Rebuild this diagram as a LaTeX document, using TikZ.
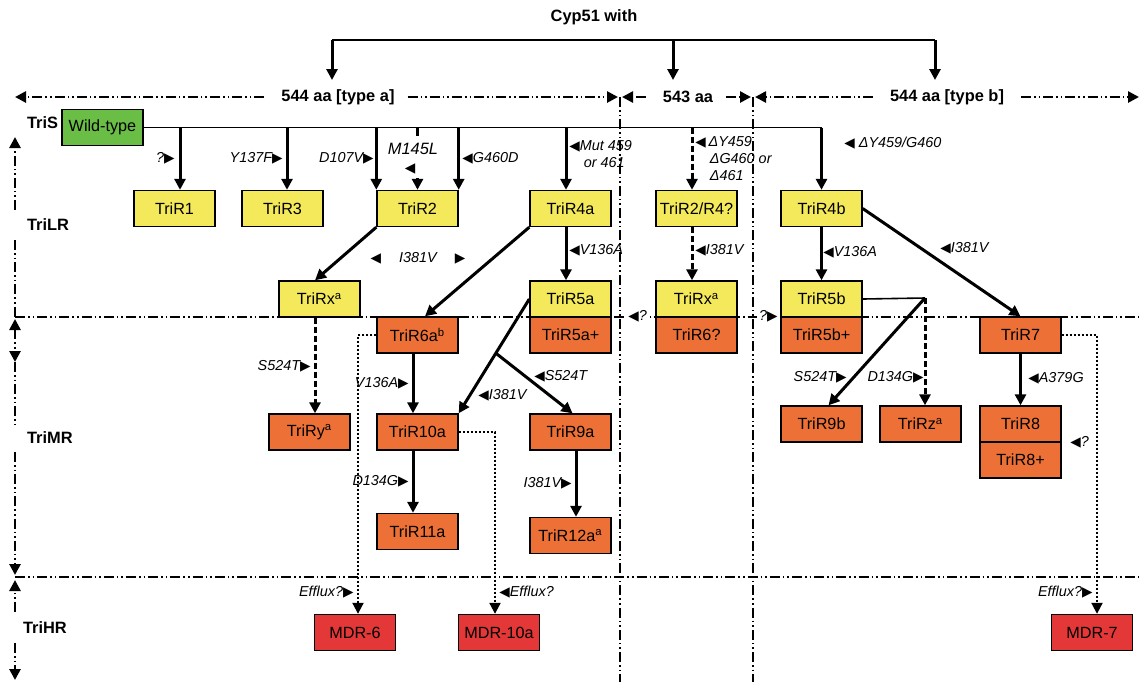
\documentclass[tikz,border=0pt]{standalone}
\usepackage{fontspec}
\setmainfont{Liberation Sans}
\newfontfamily\symf{DejaVu Sans}
\usetikzlibrary{arrows.meta,calc}
\definecolor{wtgreen}{RGB}{106,190,70}
\definecolor{lryellow}{RGB}{243,233,90}
\definecolor{mrorange}{RGB}{237,113,55}
\definecolor{hrred}{RGB}{228,55,55}
\newcommand{\rtri}{{\symf\fontsize{6.8}{7}\selectfont ▶}}
\newcommand{\ltri}{{\symf\fontsize{6.8}{7}\selectfont ◀}}
\newcommand{\ptri}{\phantom{\ltri}}

\begin{document}
\begin{tikzpicture}[x=0.5pt,y=-0.5pt,
    box/.style={draw,line width=0.7pt,minimum width=40.5pt,minimum height=18pt,inner sep=0pt,font=\fontsize{8.1}{9}\selectfont},
    ybox/.style={box,fill=lryellow},
    obox/.style={box,fill=mrorange},
    rbox/.style={box,fill=hrred},
    gbox/.style={box,fill=wtgreen},
    lab/.style={font=\fontsize{7.2}{8.6}\selectfont\itshape,inner sep=1pt},
    hdr/.style={font=\fontsize{8.2}{10}\selectfont\bfseries},
    tip/.style={-{Triangle[length=5.5pt,width=5.5pt]}},
    arr/.style={line width=1.5pt,tip},
    darr/.style={arr,dash pattern=on 3pt off 1.5pt},
    ax/.style={line width=1.3pt,dash pattern=on 5pt off 1.5pt on 0.8pt off 1.5pt on 0.8pt off 1.5pt},
    efx/.style={line width=1pt,densely dotted,tip}]
  \useasboundingbox (0,0) rectangle (1139,682);

  % headers
  \node[hdr] (title) at (594,17) {Cyp51 with};
  \node[hdr] (hdra) at (338,97) {544 aa [type a]};
  \node[hdr] (hdrm) at (688,97) {543 aa};
  \node[hdr] (hdrb) at (947,97) {544 aa [type b]};
  \coordinate (bl) at (332,40);
  \coordinate (br) at (935,40);
  \draw[line width=0.8pt] (bl) -- (br);
  \draw[arr] (bl) -- (332,80);
  \draw[arr] (673,40) -- (673,80);
  \draw[arr] (br) -- (935,80);

  % region borders
  \coordinate (tl) at (15,97);
  \coordinate (vl) at (620,97);
  \coordinate (vr) at (753,97);
  \draw[ax,tip] ([xshift=-5pt]hdra.west) -- (tl);
  \draw[ax,tip] ([xshift=3pt]hdra.east) -- ([xshift=-1pt]vl);
  \draw[ax,tip] ([xshift=-5pt]hdrm.west) -- ([xshift=1pt]vl);
  \draw[ax,tip] ([xshift=3pt]hdrm.east) -- ([xshift=-1pt]vr);
  \draw[ax,tip] ([xshift=-5pt]hdrb.west) -- ([xshift=1pt]vr);
  \draw[ax,tip] ([xshift=5pt]hdrb.east) -- (1139,97);
  \draw[ax] (vl) -- (620,682);
  \draw[ax] (vr) -- (753,682);
  \draw[ax] (15,317) -- (1139,317);
  \draw[ax] (15,577) -- (1139,577);

  % resistance levels
  \node[hdr,anchor=west] (tris) at (20,123) {TriS};
  \node[hdr,anchor=west] (trilr) at (20,225) {TriLR};
  \node[hdr,anchor=west] (trimr) at (20,438) {TriMR};
  \node[hdr,anchor=west] (trihr) at (16,628) {TriHR};
  \draw[ax,tip] (15,210) -- (15,137);
  \draw[ax] (15,240) -- (15,317);
  \draw[ax,{Triangle[length=5.5pt,width=5.5pt]}-{Triangle[length=5.5pt,width=5.5pt]}] (15,319) -- (15,362);
  \draw[ax] (15,362) -- (15,425);
  \draw[ax,tip] (15,452) -- (15,575);
  \draw[ax,tip] (15,612) -- (15,580);
  \draw[ax,tip] (15,643) -- (15,680);

  % strains
  \node[gbox] (wt) at (102.5,127.5) {Wild-type};
  \node[ybox] (r1) at (174.5,208.5) {TriR1};
  \node[ybox] (r3) at (282.5,208.5) {TriR3};
  \node[ybox] (r2) at (417.5,208.5) {TriR2};
  \node[ybox] (r4a) at (570.5,208.5) {TriR4a};
  \node[ybox] (r24) at (696.5,208.5) {TriR2/R4?};
  \node[ybox] (r4b) at (821.5,208.5) {TriR4b};
  \node[ybox] (rxl) at (319.5,299) {TriRx\textsuperscript{a}};
  \node[ybox] (r5a) at (570.5,299) {TriR5a};
  \node[obox] (r5ap) at (570.5,335) {TriR5a+};
  \node[ybox] (rxm) at (696.5,299) {TriRx\textsuperscript{a}};
  \node[obox] (r6q) at (696.5,335) {TriR6?};
  \node[ybox] (r5b) at (821.5,299) {TriR5b};
  \node[obox] (r5bp) at (821.5,335) {TriR5b+};
  \node[obox] (r6a) at (417.5,335) {TriR6a\textsuperscript{b}};
  \node[obox] (r7) at (1020.5,335) {TriR7};
  \node[obox] (ry) at (309.5,432) {TriRy\textsuperscript{a}};
  \node[obox] (r10a) at (417.5,432) {TriR10a};
  \node[obox] (r9a) at (570.5,432) {TriR9a};
  \node[obox] (r9b) at (821.5,424) {TriR9b};
  \node[obox] (rz) at (920.5,424) {TriRz\textsuperscript{a}};
  \node[obox] (r8) at (1020.5,424) {TriR8};
  \node[obox] (r8p) at (1020.5,460) {TriR8+};
  \node[obox] (r11a) at (417.5,531.5) {TriR11a};
  \node[obox] (r12a) at (570.5,535.5) {TriR12a\textsuperscript{a}};
  \node[rbox] (mdr6) at (355,632.5) {MDR-6};
  \node[rbox] (mdr10) at (499,632.5) {MDR-10a};
  \node[rbox] (mdr7) at (1092,632.5) {MDR-7};

  % from wild-type
  \draw[line width=0.8pt] (wt.east) -- (wt.east -| r4b.north);
  \draw[arr] (wt.east -| r4b.north) -- (r4b.north);
  \draw[arr] ([xshift=2.75pt]r1.north |- wt.east) -- ([xshift=2.75pt]r1.north);
  \draw[arr] ([xshift=2.25pt]r3.north |- wt.east) -- ([xshift=2.25pt]r3.north);
  \draw[arr] (r2.north west |- wt.east) -- (r2.north west);
  \draw[arr] (r2.north east |- wt.east) -- (r2.north east);
  \draw[line width=1.5pt] (r2.north |- wt.east) -- ++(0,8);
  \draw[darr] ([yshift=6pt]r2.north) -- (r2.north);
  \draw[arr] ([xshift=-2.25pt]r4a.north |- wt.east) -- ([xshift=-2.25pt]r4a.north);
  \draw[darr] ([xshift=-2.25pt]r24.north |- wt.east) -- ([xshift=-2.25pt]r24.north);

  \node[lab,anchor=east] at (177,158) {?\rtri};
  \node[lab,anchor=east] at (285,158) {Y137F\rtri};
  \node[lab,anchor=east] at (376,158) {D107V\rtri};
  \node[lab,font=\fontsize{8.2}{10}\selectfont\itshape] at (413,149) {M145L};
  \node[lab] at (410,169) {\ltri};
  \node[lab,anchor=west] at (460,158) {\ltri G460D};
  \node[lab,anchor=north west,align=left] at (567,138) {\ltri Mut 459\\\ptri\ or 461};
  \node[lab,anchor=north west,align=left] at (693,134) {\ltri$\,$ΔY459,\\\ptri\ ΔG460 or\\\ptri\ Δ461};
  \node[lab,anchor=west] at (842,143) {\ltri\ ΔY459/G460};

  % TriLR level
  \draw[arr] (r2.south west) -- ([xshift=-2.25pt]rxl.north);
  \draw[arr] (r4a.south west) -- ([xshift=3.75pt]r6a.north);
  \draw[arr] ([xshift=-2.25pt]r4a.south) -- ([xshift=-2.25pt]r5a.north);
  \draw[darr] ([xshift=-2.25pt]r24.south) -- ([xshift=-2.25pt]rxm.north);
  \draw[arr] (r4b.south) -- (r5b.north);
  \draw[arr] (r4b.east) -- (r7.north);
  \node[lab] at (418,258) {\ltri\hspace{9pt}I381V\hspace{9pt}\rtri};
  \node[lab,anchor=west] at (567,250) {\ltri V136A};
  \node[lab,anchor=west] at (693,250) {\ltri I381V};
  \node[lab,anchor=west] at (821,252) {\ltri V136A};
  \node[lab,anchor=west] at (938,248) {\ltri I381V};
  \node[lab,anchor=west,fill=white] at (626,316) {\ltri?};
  \node[lab,anchor=east,fill=white] at (780,316) {?\rtri};

  % TriMR level
  \coordinate (fork5a) at ($(r5a.west)!0.474!(r10a.north east)$);
  \draw[arr] (r5a.west) -- (r10a.north east);
  \draw[arr] (fork5a) -- ([xshift=1pt]r9a.north);
  \coordinate (fork5b) at (925,298);
  \draw[line width=0.8pt] (r5b.east) -- (fork5b);
  \draw[arr] (fork5b) -- ([xshift=3.5pt]r9b.north);
  \draw[darr] (fork5b) -- (fork5b |- rz.north);
  \draw[darr] ([xshift=-2.25pt]rxl.south) -- ([xshift=-2.25pt]rxl.south |- ry.north);
  \draw[arr] ([xshift=-2.25pt]r6a.south) -- ([xshift=-2.25pt]r10a.north);
  \draw[arr] ([xshift=-2.25pt]r10a.south) -- ([xshift=-2.25pt]r11a.north);
  \draw[arr] ([xshift=2.75pt]r9a.south) -- ([xshift=2.75pt]r12a.north);
  \draw[arr] (r7.south) -- (r8.north);
  \node[lab,anchor=east] at (313,366) {S524T\rtri};
  \node[lab,anchor=east] at (411,383) {V136A\rtri};
  \node[lab,anchor=west] at (476,395) {\ltri I381V};
  \node[lab,anchor=west] at (532,376) {\ltri S524T};
  \node[lab,anchor=east] at (849,377) {S524T\rtri};
  \node[lab,anchor=east] at (926,377) {D134G\rtri};
  \node[lab,anchor=west] at (1026,378) {\ltri A379G};
  \node[lab,anchor=east] at (411,481) {D134G\rtri};
  \node[lab,anchor=east] at (574,483) {I381V\rtri};
  \node[lab,anchor=west] at (1068,442) {\ltri?};

  % efflux
  \draw[efx] (r6a.west) -| ([xshift=1.5pt]mdr6.north);
  \draw[efx] (r10a.east) -| ([xshift=-2pt]mdr10.north);
  \draw[efx] (r7.east) -| ([xshift=2.5pt]mdr7.north);
  \node[lab,anchor=east] at (356,592) {Efflux?\rtri};
  \node[lab,anchor=west] at (497,592) {\ltri Efflux?};
  \node[lab,anchor=east] at (1095,592) {Efflux?\rtri};
\end{tikzpicture}
\end{document}
